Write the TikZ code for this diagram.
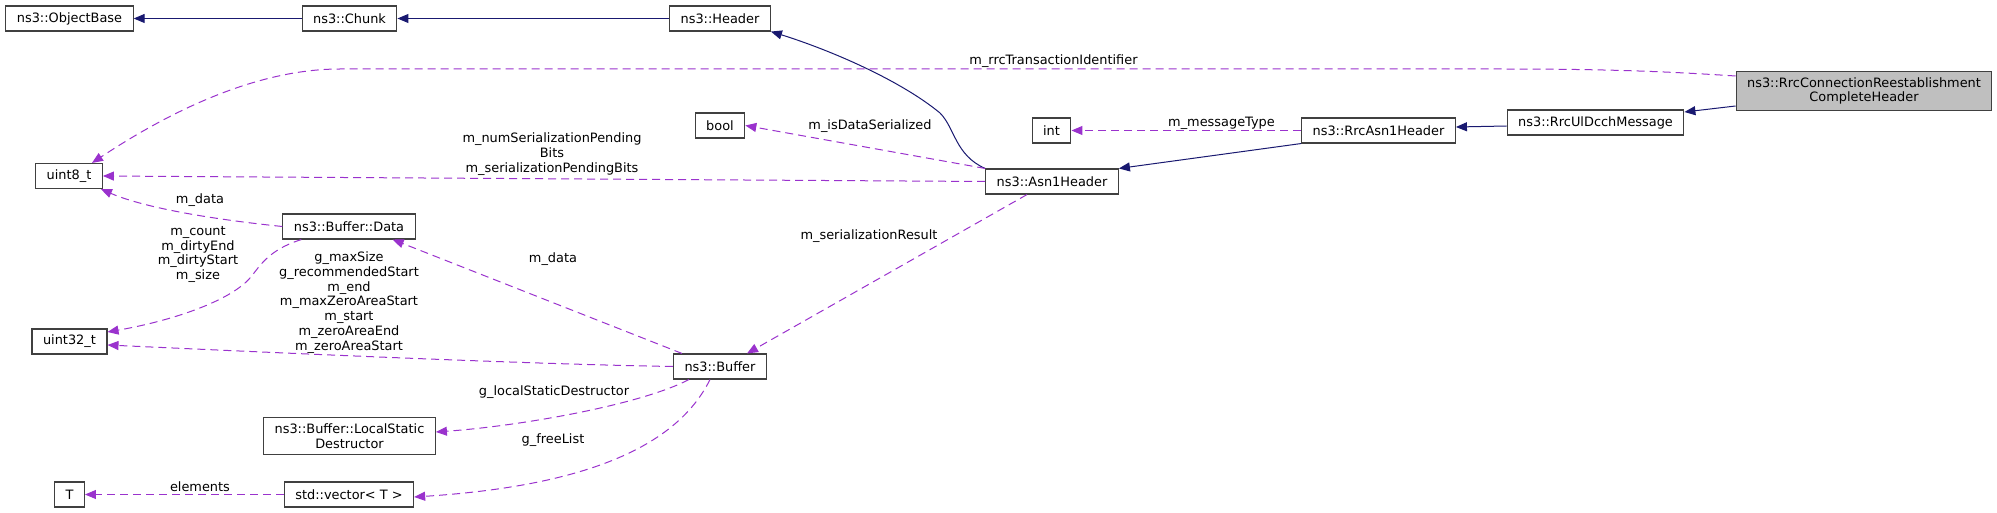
\documentclass[tikz,border=0pt]{standalone}
\usepackage{fontspec}
\setmainfont{DejaVu Sans}
\usetikzlibrary{arrows.meta}
\definecolor{inhblue}{HTML}{191970}
\definecolor{usepurple}{HTML}{9A32CD}
\definecolor{boxgray}{HTML}{BFBFBF}

\begin{document}
\begin{tikzpicture}[x=1pt, y=-1pt, font=\fontsize{12.9}{14.8}\selectfont,
cls/.style={shape=rectangle, draw=black!75, line width=1.1pt, align=center, minimum height=25pt, inner xsep=11pt, inner ysep=6pt},
lbl/.style={align=center, inner sep=0pt},
inh/.style={draw=inhblue, line width=1pt, -{Triangle[length=11pt,width=9pt]}},
mbr/.style={draw=usepurple, line width=1pt, dash pattern=on 8pt off 5pt, -{Triangle[length=11pt,width=9pt]}}]
\useasboundingbox (0,0) rectangle (1997,513);

\node[cls] (objbase) at (69.5,18.5) {ns3::ObjectBase};
\node[cls] (chunk) at (349.5,18.5) {ns3::Chunk};
\node[cls] (header) at (720,18.5) {ns3::Header};
\node[cls, fill=boxgray] (gray) at (1864,91) {ns3::RrcConnectionReestablishment\\CompleteHeader};
\node[cls] (ul) at (1595.5,122.5) {ns3::RrcUlDcchMessage};
\node[cls] (rrc) at (1378.5,130.5) {ns3::RrcAsn1Header};
\node[cls] (int) at (1051.5,130.5) {int};
\node[cls] (bool) at (720,125.5) {bool};
\node[cls] (asn1) at (1052,181.5) {ns3::Asn1Header};
\node[cls] (u8) at (69,176) {uint8\_t};
\node[cls] (data) at (349,226.5) {ns3::Buffer::Data};
\node[cls] (u32) at (69.5,341.5) {uint32\_t};
\node[cls] (buf) at (720,366.5) {ns3::Buffer};
\node[cls] (lsd) at (349.5,436) {ns3::Buffer::LocalStatic\\Destructor};
\node[cls] (T) at (69.5,494.5) {T};
\node[cls] (vec) at (349,494.5) {std::vector< T >};

\draw[inh] (chunk) -- (objbase);
\draw[inh] (header) -- (chunk);
\draw[inh] (asn1.north west) .. controls (955,155) and (955,128) .. (940,113) .. controls (900,80) and (830,50) .. (header.south east);
\draw[inh] (rrc.south west) -- (asn1.north east);
\draw[inh] ([yshift=-3.5pt]ul.west) -- ([yshift=3.5pt]rrc.east);
\draw[inh] ([yshift=-15pt]gray.west) -- ([yshift=10.5pt]ul.east);

\draw[mbr] ([yshift=15pt]gray.west) .. controls (1660,71) and (1600,69) .. (1500,69) -- (340,69) .. controls (250,69) and (160,118) .. ([xshift=23pt]u8.north);
\draw[mbr] (asn1.west) -- (u8.east);
\draw[mbr] (asn1.north west) -- (bool.east);
\draw[mbr] (rrc.west) -- (int.east);
\draw[mbr] ([xshift=-25pt]asn1.south) -- ([xshift=27pt]buf.north);
\draw[mbr] (data.west) .. controls (200,218) and (140,206) .. ([xshift=-2pt]u8.south east);
\draw[mbr] ([xshift=19pt]data.south west) .. controls (262,252) and (258,272) .. (245,283) .. controls (220,305) and (165,322) .. ([yshift=9.5pt]u32.east);
\draw[mbr] ([xshift=9pt]buf.north west) -- ([xshift=-23pt]data.south east);
\draw[mbr] (buf.west) .. controls (520,364) and (260,352) .. ([yshift=-3.5pt]u32.east);
\draw[mbr] ([xshift=16pt]buf.south west) .. controls (640,405) and (520,426) .. ([yshift=4pt]lsd.east);
\draw[mbr] ([xshift=-10pt]buf.south) .. controls (680,440) and (600,485) .. ([yshift=-2.5pt]vec.east);
\draw[mbr] (vec) -- (T);

\node[lbl] (lrrc) at (1053.5,61) {m\_rrcTransactionIdentifier};
\node[lbl] (lpend) at (552,154) {m\_numSerializationPending\\Bits\\m\_serializationPendingBits};
\node[lbl] (lisdata) at (870,126) {m\_isDataSerialized};
\node[lbl] (lmsg) at (1221.5,123) {m\_messageType};
\node[lbl] (lres) at (869,236) {m\_serializationResult};
\node[lbl] (ldata) at (200,200) {m\_data};
\node[lbl] (lbufdata) at (553,259) {m\_data};
\node[lbl] (lcount) at (198,254.5) {m\_count\\m\_dirtyEnd\\m\_dirtyStart\\m\_size};
\node[lbl] (lmax) at (349,302.5) {g\_maxSize\\g\_recommendedStart\\m\_end\\m\_maxZeroAreaStart\\m\_start\\m\_zeroAreaEnd\\m\_zeroAreaStart};
\node[lbl] (llsd) at (554,392) {g\_localStaticDestructor};
\node[lbl] (lfree) at (553,440) {g\_freeList};
\node[lbl] (lelem) at (200,487) {elements};
\end{tikzpicture}
\end{document}
